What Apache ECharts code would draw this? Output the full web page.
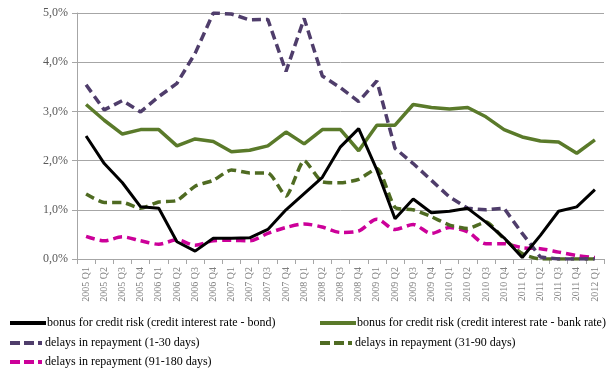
<!DOCTYPE html>
<html>
<head>
<meta charset="utf-8">
<script src="https://cdn.jsdelivr.net/npm/echarts@6/dist/echarts.min.js"></script>
<style>html,body{margin:0;padding:0;background:#fff}#c{width:612px;height:369px}</style>
</head>
<body>
<div id="c"></div>
<script>
var categories = ['2005 Q1','2005 Q2','2005 Q3','2005 Q4','2006 Q1','2006 Q2','2006 Q3','2006 Q4',
  '2007 Q1','2007 Q2','2007 Q3','2007 Q4','2008 Q1','2008 Q2','2008 Q3','2008 Q4',
  '2009 Q1','2009 Q2','2009 Q3','2009 Q4','2010 Q1','2010 Q2','2010 Q3','2010 Q4',
  '2011 Q1','2011 Q2','2011 Q3','2011 Q4','2012 Q1'];
var yTicks = [0, 1, 2, 3, 4, 5];
var bonusBond = [2.50,1.94,1.55,1.06,1.03,0.35,0.16,0.42,0.42,0.43,0.60,1.00,1.33,1.66,2.28,2.65,
  1.81,0.82,1.22,0.94,0.97,1.03,0.75,0.43,0.03,0.48,0.97,1.06,1.41];
var bonusBank = [3.14,2.82,2.54,2.63,2.63,2.30,2.44,2.39,2.18,2.21,2.30,2.58,2.34,2.63,2.63,2.20,
  2.72,2.72,3.14,3.08,3.05,3.08,2.89,2.63,2.48,2.40,2.38,2.15,2.42];
var delays1_30 = [3.54,3.03,3.22,2.99,3.30,3.57,4.18,5.00,4.98,4.86,4.87,3.81,4.89,3.72,3.48,3.20,
  3.62,2.25,1.94,1.60,1.26,1.03,1.00,1.03,0.52,0.04,0.00,0.00,0.00];
var delays31_90 = [1.32,1.15,1.15,1.03,1.16,1.19,1.48,1.60,1.81,1.75,1.75,1.28,2.00,1.57,1.55,1.62,
  1.84,1.05,1.00,0.86,0.69,0.62,0.75,0.41,0.11,0.00,0.00,0.00,0.00];
var delays91_180 = [0.46,0.37,0.45,0.37,0.30,0.39,0.28,0.37,0.38,0.37,0.52,0.64,0.71,0.65,0.54,0.57,
  0.81,0.60,0.70,0.52,0.64,0.55,0.31,0.31,0.23,0.21,0.14,0.07,0.03];

var names = ['bonus for credit risk (credit interest rate - bond)',
  'bonus for credit risk (credit interest rate - bank rate)',
  'delays in repayment (1-30 days)',
  'delays in repayment (31-90 days)',
  'delays in repayment (91-180 days)'];

var serif = 'Liberation Serif';
var dash = [9, 5];
var solidIcon = 'path://M0,0H36V4H0Z';
var dashIcon = 'path://M0,0H10V4H0Z M14,0H24V4H14Z M28,0H32V4H28Z M32,4H36V0H32Z';
function legendAt(name, icon, left, top) {
  return {
    data: [name], left: left, top: top, orient: 'horizontal', icon: icon,
    itemWidth: 36, itemHeight: 4, padding: 0,
    textStyle: {fontFamily: serif, fontSize: 12, color: '#000', padding: [0, 0, 0, -4]}
  };
}
var chart = echarts.init(document.getElementById('c'), null, {renderer: 'canvas'});
chart.setOption({
  animation: false,
  backgroundColor: '#fff',
  grid: {left: 77, right: 8, top: 13, bottom: 110, containLabel: false},
  legend: [
    legendAt(names[0], solidIcon, 10, 317),
    legendAt(names[1], solidIcon, 320, 317),
    legendAt(names[2], 'path://M0,0H10V4H0Z M14,0H24V4H14Z M28,0H32V4H28Z', 10, 337),
    legendAt(names[3], 'path://M0,0H10V4H0Z M14,0H24V4H14Z M28,0H32V4H28Z', 320, 337),
    legendAt(names[4], 'path://M0,0H10V4H0Z M14,0H24V4H14Z M28,0H32V4H28Z', 10, 356)
  ],
  xAxis: {
    type: 'category', data: categories, boundaryGap: true,
    axisLine: {lineStyle: {color: '#a6a6a6', width: 1}},
    axisTick: {show: true, interval: 0, length: 5, lineStyle: {color: '#a6a6a6'}},
    axisLabel: {interval: 0, rotate: 90, margin: 8, fontFamily: serif, fontSize: 10, color: '#7f7f7f'}
  },
  yAxis: {
    type: 'value', min: yTicks[0], max: yTicks[yTicks.length - 1], interval: 1,
    axisLine: {show: true, lineStyle: {color: '#a6a6a6', width: 1}},
    axisTick: {show: true, length: 5, lineStyle: {color: '#a6a6a6'}},
    splitLine: {lineStyle: {color: '#a6a6a6', width: 1}},
    axisLabel: {margin: 9, fontFamily: serif, fontSize: 12, color: '#595959',
      formatter: function (v) { return v.toFixed(1).replace('.', ',') + '%'; }}
  },
  series: [
    {name: names[4], type: 'line', data: delays91_180, symbol: 'none', smooth: 0.3,
      lineStyle: {color: '#cc0099', width: 3.5, type: dash}, itemStyle: {color: '#cc0099'}},
    {name: names[3], type: 'line', data: delays31_90, symbol: 'none', smooth: 0.2,
      lineStyle: {color: '#4f6b22', width: 3.5, type: dash}, itemStyle: {color: '#4f6b22'}},
    {name: names[2], type: 'line', data: delays1_30, symbol: 'none',
      lineStyle: {color: '#4f3d6b', width: 3.5, type: dash}, itemStyle: {color: '#4f3d6b'}},
    {name: names[1], type: 'line', data: bonusBank, symbol: 'none',
      lineStyle: {color: '#5a7a2a', width: 3.5}, itemStyle: {color: '#5a7a2a'}},
    {name: names[0], type: 'line', data: bonusBond, symbol: 'none',
      lineStyle: {color: '#000', width: 3}, itemStyle: {color: '#000'}}
  ]
});
</script>
</body>
</html>
